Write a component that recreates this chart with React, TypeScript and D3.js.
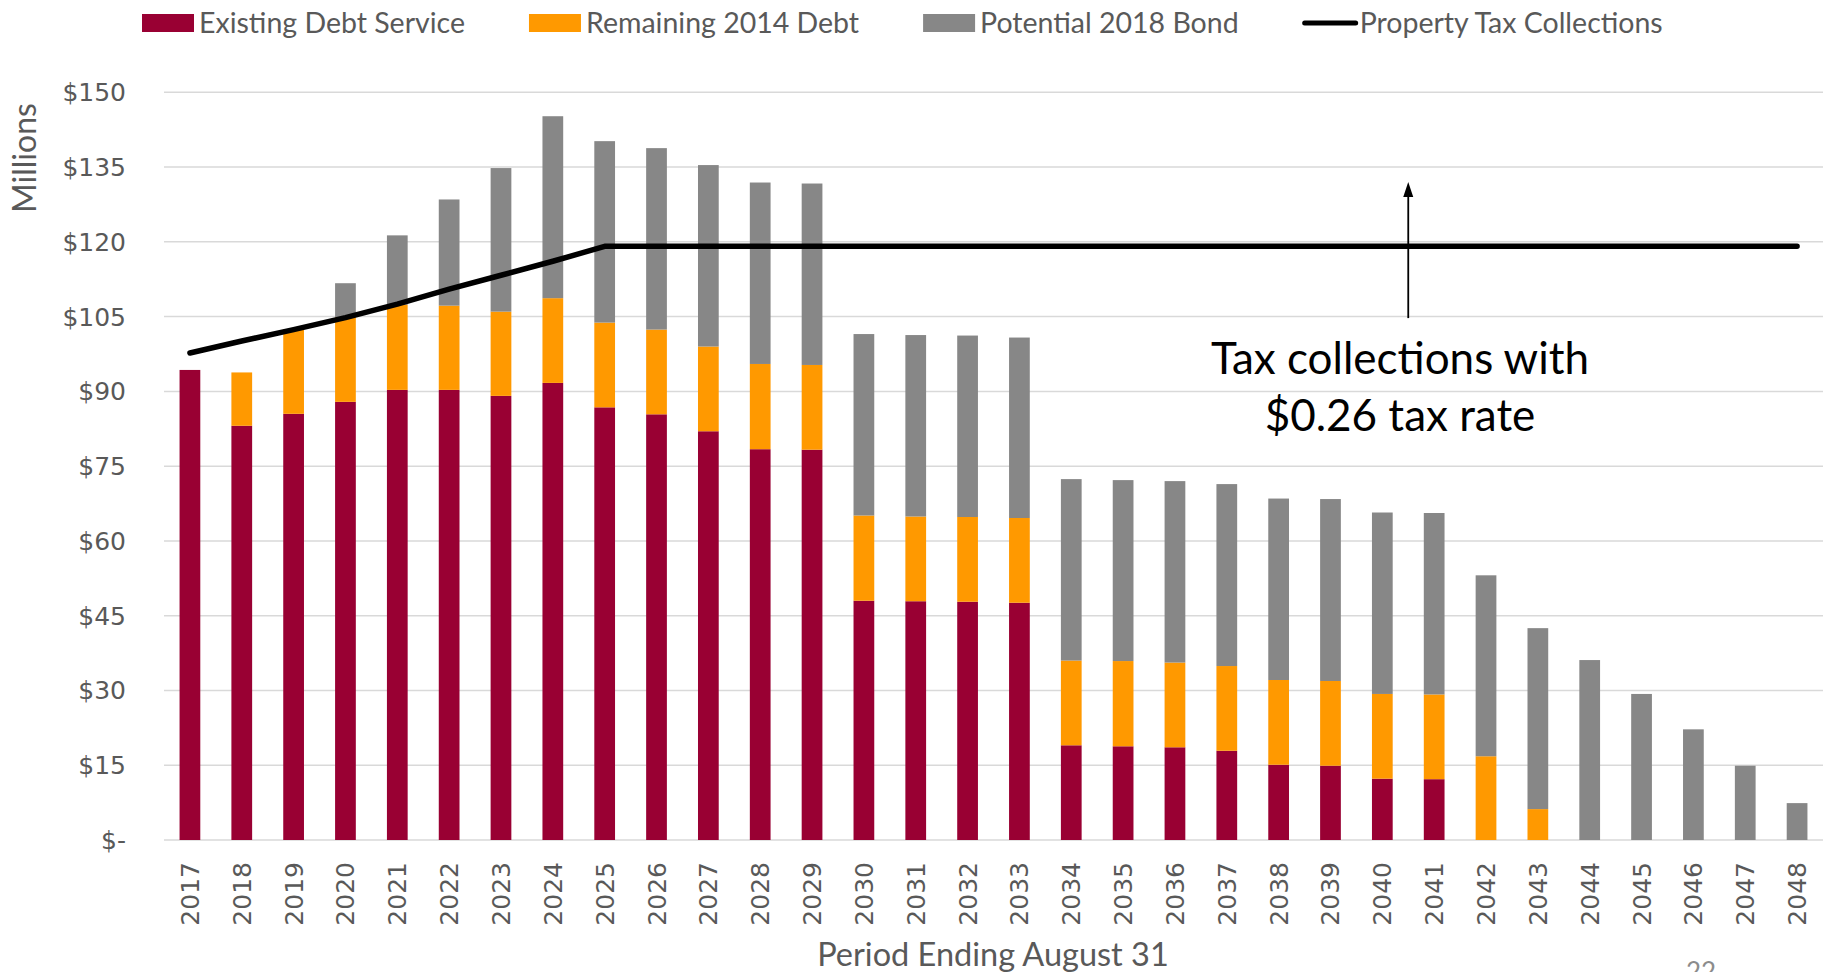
import React, { useEffect, useRef } from "react";
import * as d3 from "d3";

const years = [
  "2017", "2018", "2019", "2020", "2021", "2022", "2023", "2024",
  "2025", "2026", "2027", "2028", "2029", "2030", "2031", "2032",
  "2033", "2034", "2035", "2036", "2037", "2038", "2039", "2040",
  "2041", "2042", "2043", "2044", "2045", "2046", "2047", "2048",
];

// $ millions
const existingDebt = [
  94.3, 83.1, 85.5, 87.9, 90.3, 90.3, 89.1, 91.7,
  86.8, 85.4, 82.0, 78.4, 78.3, 48.0, 47.9, 47.8,
  47.6, 19.0, 18.8, 18.6, 17.9, 15.1, 14.9, 12.3,
  12.2, 0, 0, 0, 0, 0, 0, 0,
];
const remaining2014 = [
  0, 10.7, 17.0, 17.0, 17.1, 16.9, 16.9, 17.0,
  17.0, 17.0, 17.0, 17.1, 17.0, 17.1, 17.0, 17.0,
  17.0, 17.0, 17.1, 17.0, 17.0, 17.0, 17.0, 17.0,
  17.0, 16.8, 6.2, 0, 0, 0, 0, 0,
];
const potential2018 = [
  0, 0, 0, 6.8, 13.9, 21.3, 28.8, 36.5,
  36.4, 36.4, 36.4, 36.4, 36.4, 36.4, 36.4, 36.4,
  36.2, 36.4, 36.3, 36.4, 36.5, 36.4, 36.5, 36.4,
  36.4, 36.3, 36.3, 36.1, 29.3, 22.2, 14.9, 7.4,
];
const taxCollections = [
  97.7, 100.1, 102.4, 104.8, 107.5, 110.5, 113.3, 116.1,
  119.1, 119.1, 119.1, 119.1, 119.1, 119.1, 119.1, 119.1,
  119.1, 119.1, 119.1, 119.1, 119.1, 119.1, 119.1, 119.1,
  119.1, 119.1, 119.1, 119.1, 119.1, 119.1, 119.1, 119.1,
];
const yTicks = [0, 15, 30, 45, 60, 75, 90, 105, 120, 135, 150];

const seriesNames = ["Existing Debt Service", "Remaining 2014 Debt", "Potential 2018 Bond"];
const lineName = "Property Tax Collections";
const colors = ["#990033", "#FF9900", "#878787"];

const App = () => {
  const svgRef = useRef<SVGSVGElement>(null);

  useEffect(() => {
    const width = 1832, height = 972;
    const left = 164, right = 1823, top = 92.3, bottom = 840;
    const labelFont = "Lato, 'Open Sans', sans-serif";
    const tickFont = "'DejaVu Sans', sans-serif";
    const textColor = "#595959";

    const svg = d3.select(svgRef.current)
      .attr("width", width)
      .attr("height", height)
      .style("background", "#fff");
    svg.selectAll("*").remove();

    const x = d3.scaleBand<string>()
      .domain(years)
      .range([left, right])
      .paddingInner(0.6)
      .paddingOuter(0.3);

    const y = d3.scaleLinear().domain([0, 150]).range([bottom, top]);

    // gridlines
    svg.append("g")
      .selectAll("line")
      .data(yTicks)
      .enter().append("line")
      .attr("x1", left)
      .attr("x2", right)
      .attr("y1", d => y(d))
      .attr("y2", d => y(d))
      .attr("stroke", "#D9D9D9")
      .attr("stroke-width", 1.5);

    // y labels
    svg.append("g")
      .selectAll("text")
      .data(yTicks)
      .enter().append("text")
      .attr("x", 126)
      .attr("y", d => y(d))
      .attr("dy", "0.36em")
      .attr("text-anchor", "end")
      .attr("font-family", tickFont)
      .attr("font-size", 25)
      .attr("fill", textColor)
      .text(d => (d === 0 ? "$-" : `$${d}`));

    svg.append("text")
      .attr("transform", `translate(36, 158) rotate(-90)`)
      .attr("text-anchor", "middle")
      .attr("font-family", labelFont)
      .attr("font-size", 32)
      .attr("fill", textColor)
      .text("Millions");

    // stacked bars
    const rows = years.map((yr, i) => ({
      year: yr,
      a: existingDebt[i],
      b: remaining2014[i],
      c: potential2018[i],
    }));
    const stacked = d3.stack<any>().keys(["a", "b", "c"])(rows);

    svg.append("g")
      .selectAll("g")
      .data(stacked)
      .enter().append("g")
      .attr("fill", (_, i) => colors[i])
      .selectAll("rect")
      .data(d => d.filter(s => s[1] - s[0] > 0))
      .enter().append("rect")
      .attr("x", d => x(d.data.year)!)
      .attr("width", x.bandwidth())
      .attr("y", d => y(d[1]))
      .attr("height", d => y(d[0]) - y(d[1]));

    // x labels
    svg.append("g")
      .selectAll("text")
      .data(years)
      .enter().append("text")
      .attr("transform", d => `translate(${x(d)! + x.bandwidth() / 2}, 862) rotate(-90)`)
      .attr("dy", "0.36em")
      .attr("text-anchor", "end")
      .attr("font-family", tickFont)
      .attr("font-size", 25)
      .attr("fill", textColor)
      .text(d => d);

    svg.append("text")
      .attr("x", 993)
      .attr("y", 966)
      .attr("text-anchor", "middle")
      .attr("font-family", labelFont)
      .attr("font-size", 32.5)
      .attr("fill", textColor)
      .text("Period Ending August 31");

    // tax collection line
    const line = d3.line<number>()
      .x((_, i) => x(years[i])! + x.bandwidth() / 2)
      .y(d => y(d));

    svg.append("path")
      .datum(taxCollections)
      .attr("d", line)
      .attr("fill", "none")
      .attr("stroke", "#000")
      .attr("stroke-width", 5.5)
      .attr("stroke-linecap", "round")
      .attr("stroke-linejoin", "round");

    // annotation arrow
    const ax = (x("2040")! + x("2041")!) / 2 + x.bandwidth() / 2;
    const y0 = y(104.7), y1 = y(132);
    svg.append("line")
      .attr("x1", ax).attr("x2", ax)
      .attr("y1", y0).attr("y2", y1 + 12)
      .attr("stroke", "#000")
      .attr("stroke-width", 1.8);
    svg.append("path")
      .attr("d", `M${ax},${y1} L${ax - 5},${y1 + 15} L${ax + 5},${y1 + 15} Z`)
      .attr("fill", "#000");

    svg.append("text")
      .attr("x", 1400)
      .attr("y", 374)
      .attr("text-anchor", "middle")
      .attr("font-family", labelFont)
      .attr("font-size", 44)
      .attr("fill", "#000")
      .text("Tax collections with");
    svg.append("text")
      .attr("x", 1400)
      .attr("y", 431)
      .attr("text-anchor", "middle")
      .attr("font-family", labelFont)
      .attr("font-size", 44)
      .attr("fill", "#000")
      .text("$0.26 tax rate");

    // legend
    const legend = svg.append("g").attr("font-family", labelFont).attr("font-size", 28.5).attr("fill", textColor);
    let lx = 142;
    const ly = 23;
    [...seriesNames, lineName].forEach((name, i) => {
      if (i < 3) {
        legend.append("rect")
          .attr("x", lx).attr("y", ly - 9)
          .attr("width", 52).attr("height", 18)
          .attr("fill", colors[i]);
      } else {
        legend.append("line")
          .attr("x1", lx + 2).attr("x2", lx + 53)
          .attr("y1", ly).attr("y2", ly)
          .attr("stroke", "#000")
          .attr("stroke-width", 5)
          .attr("stroke-linecap", "round");
      }
      const t = legend.append("text")
        .attr("x", lx + 57)
        .attr("y", ly)
        .attr("dy", "0.35em")
        .text(name);
      const w = (t.node() as SVGTextElement).getComputedTextLength();
      lx += 57 + w + 64;
    });

    // page number, mostly cut off at the bottom edge as in the source slide
    svg.append("text")
      .attr("x", 1701)
      .attr("y", 981)
      .attr("text-anchor", "middle")
      .attr("font-family", labelFont)
      .attr("font-size", 26)
      .attr("fill", "#8C8C8C")
      .text("22");
  }, []);

  return (
    <svg ref={svgRef} style={{ position: "absolute", left: 0, top: 0, display: "block" }}></svg>
  );
};

export default App;
